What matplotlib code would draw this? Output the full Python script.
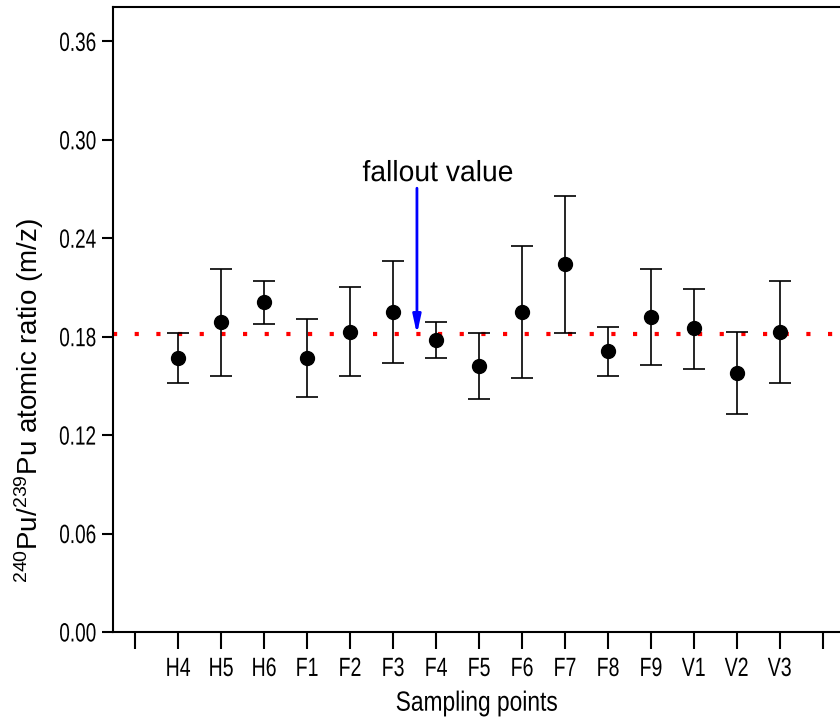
import matplotlib
matplotlib.use('Agg')
import matplotlib.pyplot as plt
from matplotlib.patheffects import AbstractPathEffect
from matplotlib.transforms import Affine2D

# Pu isotope ratios per sampling point
sites = ['H4', 'H5', 'H6', 'F1', 'F2', 'F3', 'F4', 'F5',
         'F6', 'F7', 'F8', 'F9', 'V1', 'V2', 'V3']
ratio = [0.167, 0.189, 0.201, 0.167, 0.183, 0.195, 0.178, 0.162,
         0.195, 0.224, 0.171, 0.192, 0.185, 0.158, 0.183]
err_low = [0.015, 0.033, 0.013, 0.024, 0.027, 0.031, 0.011, 0.020,
           0.040, 0.042, 0.015, 0.029, 0.025, 0.025, 0.031]
err_high = [0.015, 0.032, 0.013, 0.024, 0.027, 0.031, 0.011, 0.020,
            0.040, 0.042, 0.015, 0.029, 0.024, 0.025, 0.031]
fallout = 0.1815


# squeeze text horizontally, the original uses a narrow font
class Condense(AbstractPathEffect):
    def __init__(self, sx, anchor='center'):
        super().__init__()
        self.sx = sx
        self.anchor = anchor

    def draw_path(self, renderer, gc, tpath, affine, rgbFace=None):
        ext = tpath.get_extents()
        if self.anchor == 'right':
            cx = ext.x1
        else:
            cx = (ext.x0 + ext.x1) / 2.0
        t = Affine2D().translate(-cx, 0).scale(self.sx, 1).translate(cx, 0) + affine
        renderer.draw_path(gc, tpath, t, rgbFace)


plt.rcParams['font.family'] = ['Liberation Sans', 'DejaVu Sans']
plt.rcParams['mathtext.fontset'] = 'custom'
plt.rcParams['mathtext.rm'] = 'Liberation Sans'
plt.rcParams['mathtext.it'] = 'Liberation Sans'

fig = plt.figure(figsize=(8.4, 7.22), dpi=100)
ax = fig.add_axes([0.1345, 0.1247, 0.8655, 0.8657])

x = list(range(1, len(sites) + 1))

ax.errorbar(x, ratio, yerr=[err_low, err_high], fmt='o', color='black',
            markersize=10, elinewidth=1.2, capsize=8, capthick=1.2, zorder=3)

# fallout reference line
ax.axhline(fallout, color='red', linewidth=3, dashes=(1, 4.2),
           dash_capstyle='butt', zorder=2)

ax.annotate('', xy=(6.56, fallout), xytext=(6.56, 0.2705),
            arrowprops=dict(arrowstyle='-|>,head_length=0.55,head_width=0.12',
                            color='blue', lw=2, mutation_scale=20,
                            shrinkA=0, shrinkB=0))
ax.text(7.05, 0.2797, 'fallout value', ha='center', va='center', fontsize=21,
        path_effects=[Condense(0.97)])

ax.set_xlim(-0.51, 16.4)
ax.set_ylim(0, 0.381)
ax.set_xticks(range(0, 17))
ax.set_xticklabels([''] + sites + [''])
ax.set_yticks([0.0, 0.06, 0.12, 0.18, 0.24, 0.30, 0.36])
ax.set_yticklabels(['0.00', '0.06', '0.12', '0.18', '0.24', '0.30', '0.36'])

ax.tick_params(axis='x', direction='out', length=12, width=1.5, labelsize=19, pad=6)
ax.tick_params(axis='y', direction='out', length=8, width=1.5, labelsize=19, pad=4)

for lbl in ax.get_xticklabels():
    lbl.set_path_effects([Condense(0.74)])
for lbl in ax.get_yticklabels():
    lbl.set_path_effects([Condense(0.72, 'right')])

for s in ['left', 'bottom', 'top']:
    ax.spines[s].set_linewidth(1.5)
ax.spines['right'].set_visible(False)

xl = ax.set_xlabel('Sampling points', fontsize=20, labelpad=7)
xl.set_path_effects([Condense(0.82)])
yl = ax.set_ylabel(r'$^{240}$Pu/$^{239}$Pu atomic ratio (m/z)', fontsize=20)
ax.yaxis.set_label_coords(-0.092, 0.37)

fig.savefig('out.png', dpi=100)
